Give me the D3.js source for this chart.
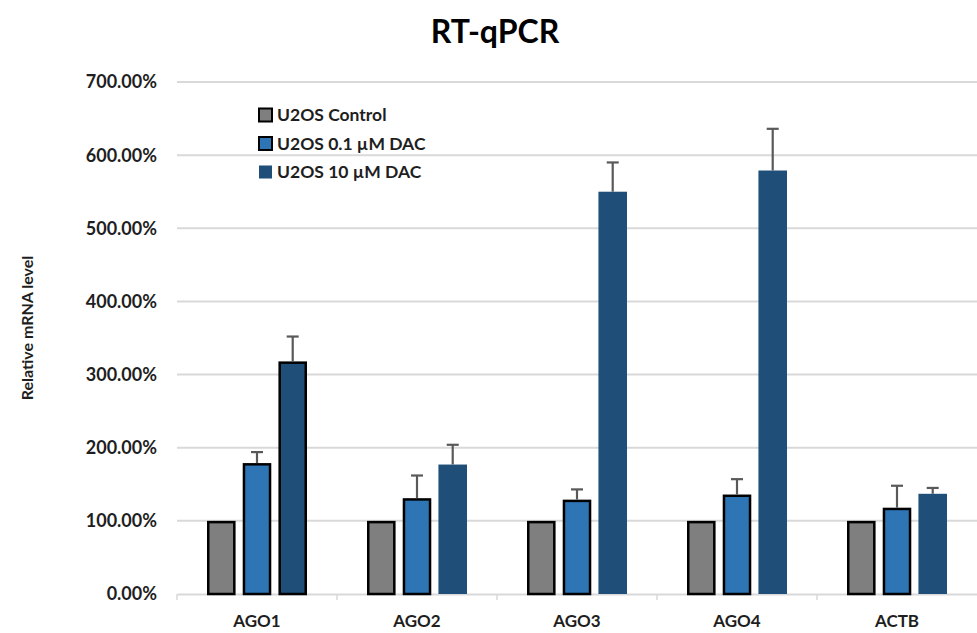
<!DOCTYPE html>
<html>
<head>
<meta charset="utf-8">
<script src="https://cdn.jsdelivr.net/npm/d3@7"></script>
<style>
  html, body { margin: 0; padding: 0; background: #fff; }
  svg { display: block; font-family: Lato, "Open Sans", sans-serif; }
</style>
</head>
<body>
<svg id="chart" width="977" height="633"></svg>
<script>
// Genes measured and treatment groups
const genes = ["AGO1", "AGO2", "AGO3", "AGO4", "ACTB"];
const seriesNames = ["U2OS Control", "U2OS 0.1 \u00b5M DAC", "U2OS 10 \u00b5M DAC"];

// Relative mRNA level (%) per gene, one array per treatment
const controlValues = [100, 100, 100, 100, 100];
const lowDacValues  = [179, 131, 129, 136, 118];
const highDacValues = [318, 177, 550, 579, 137];

// Standard deviation (%) for the treated groups
const lowDacErrors  = [15, 31, 14, 21, 30];
const highDacErrors = [34, 27, 40, 57, 8];

const yTicks = [0, 100, 200, 300, 400, 500, 600, 700];

const colors = ["#7f7f7f", "#2e75b6", "#1f4e79"];

const valuesBySeries = [controlValues, lowDacValues, highDacValues];
const errorsBySeries = [null, lowDacErrors, highDacErrors];

const rows = [];
genes.forEach((g, gi) => {
  seriesNames.forEach((s, si) => {
    rows.push({
      gene: g, series: s, si,
      value: valuesBySeries[si][gi],
      err: errorsBySeries[si] ? errorsBySeries[si][gi] : null
    });
  });
});

const svg = d3.select("#chart");
const margin = { left: 177, right: 0, top: 82, bottom: 39 };
const W = 977, H = 633;
const textColor = "#1e1e1e";

const x0 = d3.scaleBand().domain(genes).range([margin.left, W - margin.right]);
const x1 = d3.scaleBand().domain(seriesNames)
  .range([30, x0.bandwidth() - 30]).paddingInner(0.2);
const y = d3.scaleLinear().domain([0, 700]).range([H - margin.bottom, margin.top]);

// Horizontal gridlines
svg.append("g")
  .selectAll("line")
  .data(yTicks.filter(t => t > 0))
  .join("line")
  .attr("x1", margin.left).attr("x2", W)
  .attr("y1", d => y(d)).attr("y2", d => y(d))
  .attr("stroke", "#d9d9d9").attr("stroke-width", 2);

// Y tick labels
svg.append("g")
  .selectAll("text")
  .data(yTicks)
  .join("text")
  .attr("x", 157).attr("y", d => y(d))
  .attr("dy", "0.36em")
  .attr("text-anchor", "end")
  .attr("font-size", 18).attr("font-weight", 700)
  .attr("fill", textColor)
  .text(d => d3.format(".2f")(d) + "%");

// Category axis along the baseline
const xAxis = d3.axisBottom(x0).tickSize(0).tickPadding(21);
const gx = svg.append("g").attr("transform", `translate(0,${y(0)})`).call(xAxis);
gx.select(".domain").attr("stroke", "#d9d9d9").attr("stroke-width", 2);
gx.selectAll("text")
  .attr("font-family", "Lato, 'Open Sans', sans-serif")
  .attr("font-size", 17).attr("font-weight", 700).attr("fill", textColor);
// Separator ticks between categories
gx.append("g").selectAll("line")
  .data(genes)
  .join("line")
  .attr("x1", d => x0(d)).attr("x2", d => x0(d))
  .attr("y1", 0).attr("y2", 6)
  .attr("stroke", "#d9d9d9").attr("stroke-width", 1.5);

// Bars: control and low dose outlined; high dose outlined only for AGO1
const outlinedHigh = new Set(["AGO1"]);
const bars = svg.append("g");
bars.selectAll("rect")
  .data(rows)
  .join("rect")
  .each(function(d) {
    const outlined = d.si < 2 || outlinedHigh.has(d.gene);
    const sw = outlined ? 2.5 : 0;
    const bx = x0(d.gene) + x1(d.series);
    const bw = x1.bandwidth();
    d3.select(this)
      .attr("x", bx + sw / 2)
      .attr("y", y(d.value) + sw / 2)
      .attr("width", bw - sw)
      .attr("height", y(0) - y(d.value) - sw / 2)
      .attr("fill", colors[d.si])
      .attr("stroke", outlined ? "#000" : "none")
      .attr("stroke-width", sw);
  });

// Error bars (upper only)
const eb = svg.append("g").attr("stroke", "#595959").attr("stroke-width", 2.2);
rows.filter(d => d.err != null).forEach(d => {
  const cx = x0(d.gene) + x1(d.series) + x1.bandwidth() / 2;
  eb.append("line")
    .attr("x1", cx).attr("x2", cx)
    .attr("y1", y(d.value)).attr("y2", y(d.value + d.err));
  eb.append("line")
    .attr("x1", cx - 6).attr("x2", cx + 6)
    .attr("y1", y(d.value + d.err)).attr("y2", y(d.value + d.err));
});

// Title
svg.append("text")
  .attr("x", 495).attr("y", 43)
  .attr("text-anchor", "middle")
  .attr("font-size", 32).attr("font-weight", 700)
  .attr("fill", "#000")
  .text("RT-qPCR");

// Y-axis title
svg.append("text")
  .attr("transform", `translate(27,${(y(0) + y(700)) / 2 - 10}) rotate(-90)`)
  .attr("dy", "0.35em")
  .attr("text-anchor", "middle")
  .attr("font-size", 16).attr("font-weight", 700)
  .attr("fill", textColor)
  .text("Relative mRNA level");

// Legend
const legend = svg.append("g");
seriesNames.forEach((s, i) => {
  const ly = 115 + i * 28.5;
  const outlined = i < 2;
  legend.append("rect")
    .attr("x", 259).attr("y", ly - 6.5)
    .attr("width", 13).attr("height", 13)
    .attr("fill", colors[i])
    .attr("stroke", outlined ? "#000" : "none")
    .attr("stroke-width", outlined ? 2 : 0);
  legend.append("text")
    .attr("x", 277).attr("y", ly)
    .attr("dy", "0.36em")
    .attr("font-size", 17.5).attr("font-weight", 700)
    .attr("fill", textColor)
    .text(s);
});
</script>
</body>
</html>
